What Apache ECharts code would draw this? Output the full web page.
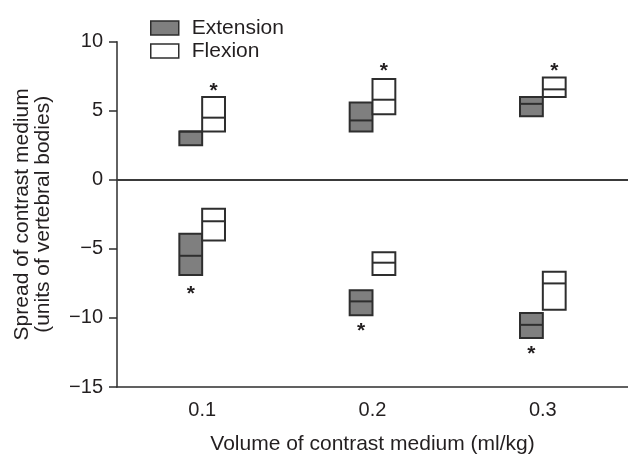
<!DOCTYPE html>
<html>
<head>
<meta charset="utf-8">
<script src="https://cdn.jsdelivr.net/npm/echarts@6/dist/echarts.min.js"></script>
<style>html,body{margin:0;padding:0;background:#fff;}#c{width:628px;height:460px;}</style>
</head>
<body>
<div id="c"></div>
<script>
// ---- data ----
const categories = ['0.1', '0.2', '0.3'];
// each entry: [low, median, high] per category
const extensionUpper = [[2.5, 3.5, 3.5], [3.5, 4.3, 5.6], [4.6, 5.5, 6.0]];
const extensionLower = [[-6.9, -5.5, -3.9], [-9.8, -8.8, -8.0], [-11.45, -10.5, -9.65]];
const flexionUpper = [[3.5, 4.5, 6.0], [4.75, 5.8, 7.3], [6.0, 6.55, 7.4]];
const flexionLower = [[-4.4, -3.0, -2.1], [-6.9, -6.0, -5.25], [-9.4, -7.5, -6.65]];
// significance asterisks: value position per category
const sigFlexion = [6.8, 8.25, 8.25];
const sigExtension = [-7.9, -10.6, -12.25];
const yTicks = [-15, -10, -5, 0, 5, 10];

// ---- styles ----
const FONT = 'Liberation Sans, Arial, Helvetica, sans-serif';
const TXT = '#231f20';
const DARK = '#2e2e2e';
const GRAY = '#7f7f7f';
const BOX_RATIO = 0.134;

function toRows(arr) {
  return arr.map((d, i) => [i, d[0], d[1], d[2]]);
}

function makeBoxRenderer(side, fill) {
  return function (params, api) {
    const cat = api.value(0);
    const lo = api.value(1), med = api.value(2), hi = api.value(3);
    const band = api.size([1, 0])[0];
    const w = band * BOX_RATIO;
    const pTop = api.coord([cat, hi]);
    const pBot = api.coord([cat, lo]);
    const pMid = api.coord([cat, med]);
    const x0 = side < 0 ? pTop[0] - w : pTop[0];
    return {
      type: 'group',
      children: [
        { type: 'rect', shape: { x: x0, y: pTop[1], width: w, height: pBot[1] - pTop[1] },
          style: { fill: fill, stroke: DARK, lineWidth: 2 } },
        { type: 'line', shape: { x1: x0, y1: pMid[1], x2: x0 + w, y2: pMid[1] },
          style: { stroke: DARK, lineWidth: 2 } }
      ]
    };
  };
}

const sigRows = [];
sigFlexion.forEach((v, i) => sigRows.push([i, v, 1]));
sigExtension.forEach((v, i) => sigRows.push([i, v, -1]));

const chart = echarts.init(document.getElementById('c'), null, { renderer: 'canvas' });
chart.setOption({
  animation: false,
  backgroundColor: '#fff',
  textStyle: { fontFamily: FONT },
  grid: { left: 117, right: 0, top: 41.7, bottom: 68 },
  legend: {
    orient: 'vertical', left: 145, top: 12.5, itemWidth: 28, itemHeight: 14, itemGap: 2,
    textStyle: { fontSize: 21, color: TXT, fontFamily: FONT, padding: [0, 0, 0, 8] },
    data: [
      { name: 'Extension', icon: 'rect', itemStyle: { color: GRAY, borderColor: DARK, borderWidth: 1.5 } },
      { name: 'Flexion', icon: 'rect', itemStyle: { color: '#fff', borderColor: DARK, borderWidth: 1.5 } }
    ]
  },
  xAxis: {
    type: 'category', data: categories, position: 'bottom',
    name: 'Volume of contrast medium (ml/kg)', nameLocation: 'middle', nameGap: 47,
    nameTextStyle: { fontSize: 21, color: TXT, fontFamily: FONT },
    axisLine: { onZero: false, lineStyle: { color: DARK, width: 1.5 } },
    axisTick: { length: 7, lineStyle: { color: DARK, width: 1.5 } },
    axisLabel: { fontSize: 20, color: TXT, margin: 13, fontFamily: FONT },
    splitLine: { show: false }
  },
  yAxis: {
    type: 'value', min: -15, max: 10, interval: 5,
    name: 'Spread of contrast medium\n(units of vertebral bodies)', nameLocation: 'middle', nameGap: 63,
    nameTextStyle: { fontSize: 21, color: TXT, fontFamily: FONT, lineHeight: 21, align: 'center' },
    axisLine: { show: true, lineStyle: { color: DARK, width: 1.5 } },
    axisTick: { show: true, length: 8, lineStyle: { color: DARK, width: 1.5 } },
    axisLabel: { fontSize: 20, color: TXT, margin: 14, fontFamily: FONT,
      formatter: v => (yTicks.indexOf(v) >= 0 ? String(v).replace('-', '\u2212') : '') },
    splitLine: { show: false }
  },
  series: [
    {
      name: 'Extension', type: 'custom',
      itemStyle: { color: GRAY, borderColor: DARK, borderWidth: 1.5 },
      renderItem: makeBoxRenderer(-1, GRAY),
      encode: { x: 0, y: [1, 2, 3] },
      data: toRows(extensionUpper).concat(toRows(extensionLower)),
      markLine: {
        silent: true, symbol: 'none', label: { show: false },
        lineStyle: { color: '#3a3a3a', width: 2, type: 'solid' },
        data: [{ yAxis: 0 }]
      }
    },
    {
      name: 'Flexion', type: 'custom',
      itemStyle: { color: '#fff', borderColor: DARK, borderWidth: 1.5 },
      renderItem: makeBoxRenderer(1, '#fff'),
      encode: { x: 0, y: [1, 2, 3] },
      data: toRows(flexionUpper).concat(toRows(flexionLower))
    },
    {
      name: 'sig', type: 'custom', silent: true,
      renderItem: function (params, api) {
        const cat = api.value(0), v = api.value(1), side = api.value(2);
        const w = api.size([1, 0])[0] * BOX_RATIO;
        const p = api.coord([cat, v]);
        return {
          type: 'text',
          style: { text: '*', x: p[0] + side * w / 2, y: p[1] + 5, align: 'center', verticalAlign: 'middle',
            font: 'bold 21px ' + FONT, fill: TXT }
        };
      },
      encode: { x: 0, y: 1 },
      data: sigRows
    }
  ]
});
</script>
</body>
</html>
